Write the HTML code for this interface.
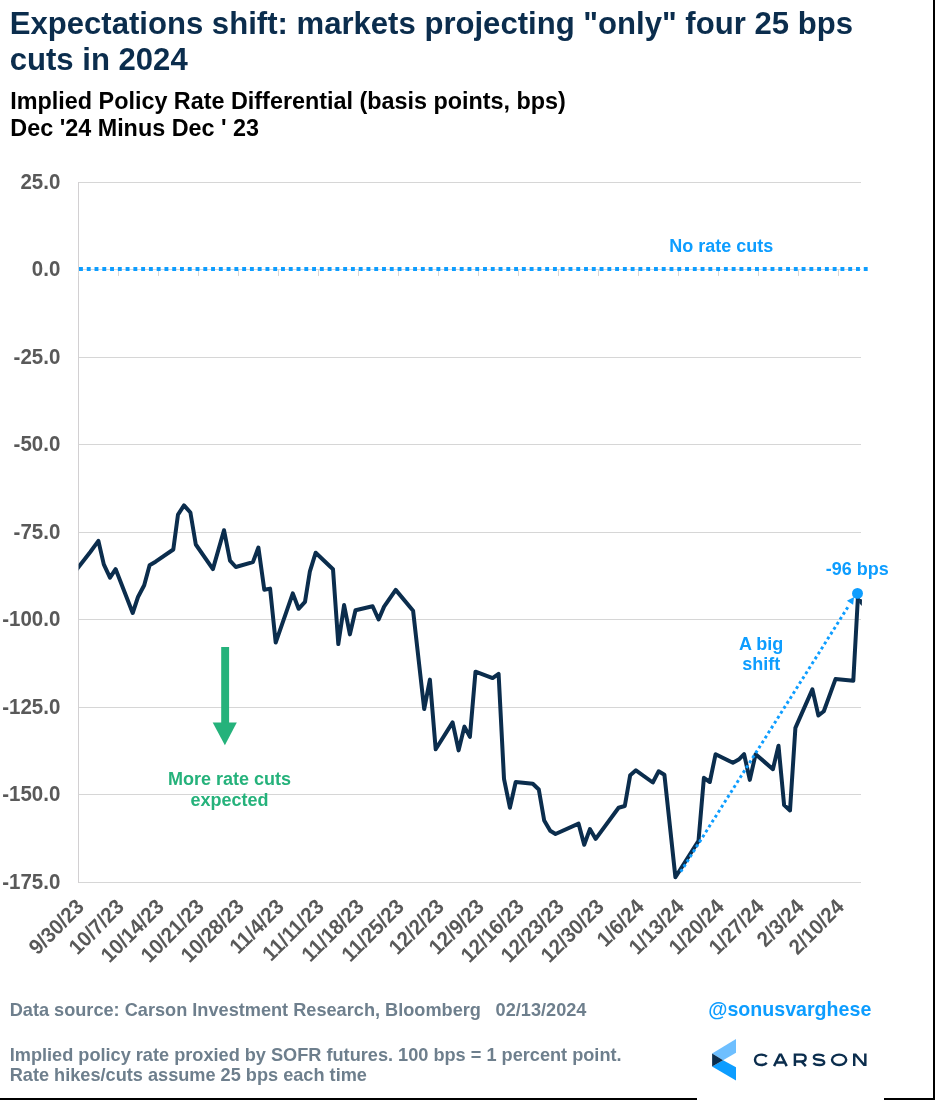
<!DOCTYPE html>
<html><head><meta charset="utf-8">
<style>
html,body{margin:0;padding:0;background:#fff;}
body{width:935px;height:1100px;overflow:hidden;position:relative;font-family:"Liberation Sans",sans-serif;}
svg{position:absolute;left:0;top:0;display:block;will-change:transform;transform:translateZ(0)}
text{font-family:"Liberation Sans",sans-serif;font-weight:bold}
.yl{font-size:20.5px;fill:#595959}
.xl{font-size:20.3px;fill:#595959}
.t1{font-size:31.1px;fill:#0b2d4d}
.t2{font-size:23.36px;fill:#000}
.bl{font-size:18px;fill:#0d9dff}
.gr{font-size:18px;fill:#25b27b}
.ft{font-size:18.17px;fill:#6e7f8d}
</style></head><body>
<svg width="935" height="1100" viewBox="0 0 935 1100">
<rect x="0" y="0" width="935" height="1100" fill="#ffffff"/>
<!-- borders -->
<rect x="933" y="0" width="2" height="1100" fill="#000"/>
<rect x="0" y="1098" width="697" height="2" fill="#000"/>
<rect x="884" y="1098" width="51" height="2" fill="#000"/>
<!-- titles -->
<text x="9.7" y="33.7" class="t1">Expectations shift: markets projecting "only" four 25 bps</text>
<text x="9.7" y="69.6" class="t1">cuts in 2024</text>
<text x="10.3" y="108.9" class="t2">Implied Policy Rate Differential (basis points, bps)</text>
<text x="10.3" y="135.5" class="t2">Dec '24 Minus Dec ' 23</text>
<!-- grid -->
<rect x="78" y="182" width="783" height="1" fill="#d6d6d6"/>
<rect x="78" y="269" width="783" height="1" fill="#d6d6d6"/>
<rect x="78" y="357" width="783" height="1" fill="#d6d6d6"/>
<rect x="78" y="444" width="783" height="1" fill="#d6d6d6"/>
<rect x="78" y="532" width="783" height="1" fill="#d6d6d6"/>
<rect x="78" y="619" width="783" height="1" fill="#d6d6d6"/>
<rect x="78" y="707" width="783" height="1" fill="#d6d6d6"/>
<rect x="78" y="794" width="783" height="1" fill="#d6d6d6"/>
<rect x="78" y="882" width="783" height="1" fill="#d6d6d6"/>

<rect x="78" y="182" width="1" height="701" fill="#d2d0d2"/>
<rect x="78" y="269" width="1" height="7" fill="#d6d6d6"/>
<rect x="118" y="269" width="1" height="7" fill="#d6d6d6"/>
<rect x="158" y="269" width="1" height="7" fill="#d6d6d6"/>
<rect x="198" y="269" width="1" height="7" fill="#d6d6d6"/>
<rect x="238" y="269" width="1" height="7" fill="#d6d6d6"/>
<rect x="278" y="269" width="1" height="7" fill="#d6d6d6"/>
<rect x="318" y="269" width="1" height="7" fill="#d6d6d6"/>
<rect x="358" y="269" width="1" height="7" fill="#d6d6d6"/>
<rect x="398" y="269" width="1" height="7" fill="#d6d6d6"/>
<rect x="438" y="269" width="1" height="7" fill="#d6d6d6"/>
<rect x="478" y="269" width="1" height="7" fill="#d6d6d6"/>
<rect x="518" y="269" width="1" height="7" fill="#d6d6d6"/>
<rect x="558" y="269" width="1" height="7" fill="#d6d6d6"/>
<rect x="598" y="269" width="1" height="7" fill="#d6d6d6"/>
<rect x="638" y="269" width="1" height="7" fill="#d6d6d6"/>
<rect x="678" y="269" width="1" height="7" fill="#d6d6d6"/>
<rect x="718" y="269" width="1" height="7" fill="#d6d6d6"/>
<rect x="758" y="269" width="1" height="7" fill="#d6d6d6"/>
<rect x="798" y="269" width="1" height="7" fill="#d6d6d6"/>
<rect x="838" y="269" width="1" height="7" fill="#d6d6d6"/>

<text transform="translate(60.3,188.6) scale(1,1.07)" text-anchor="end" class="yl">25.0</text>
<text transform="translate(60.3,276.1) scale(1,1.07)" text-anchor="end" class="yl">0.0</text>
<text transform="translate(60.3,363.6) scale(1,1.07)" text-anchor="end" class="yl">-25.0</text>
<text transform="translate(60.3,451.1) scale(1,1.07)" text-anchor="end" class="yl">-50.0</text>
<text transform="translate(60.3,538.6) scale(1,1.07)" text-anchor="end" class="yl">-75.0</text>
<text transform="translate(60.3,626.1) scale(1,1.07)" text-anchor="end" class="yl">-100.0</text>
<text transform="translate(60.3,713.6) scale(1,1.07)" text-anchor="end" class="yl">-125.0</text>
<text transform="translate(60.3,801.1) scale(1,1.07)" text-anchor="end" class="yl">-150.0</text>
<text transform="translate(60.3,888.6) scale(1,1.07)" text-anchor="end" class="yl">-175.0</text>

<text transform="translate(85.30,908) rotate(-45) scale(1,1.05)" text-anchor="end" class="xl">9/30/23</text>
<text transform="translate(125.30,908) rotate(-45) scale(1,1.05)" text-anchor="end" class="xl">10/7/23</text>
<text transform="translate(165.30,908) rotate(-45) scale(1,1.05)" text-anchor="end" class="xl">10/14/23</text>
<text transform="translate(205.30,908) rotate(-45) scale(1,1.05)" text-anchor="end" class="xl">10/21/23</text>
<text transform="translate(245.30,908) rotate(-45) scale(1,1.05)" text-anchor="end" class="xl">10/28/23</text>
<text transform="translate(285.30,908) rotate(-45) scale(1,1.05)" text-anchor="end" class="xl">11/4/23</text>
<text transform="translate(325.30,908) rotate(-45) scale(1,1.05)" text-anchor="end" class="xl">11/11/23</text>
<text transform="translate(365.30,908) rotate(-45) scale(1,1.05)" text-anchor="end" class="xl">11/18/23</text>
<text transform="translate(405.30,908) rotate(-45) scale(1,1.05)" text-anchor="end" class="xl">11/25/23</text>
<text transform="translate(445.30,908) rotate(-45) scale(1,1.05)" text-anchor="end" class="xl">12/2/23</text>
<text transform="translate(485.30,908) rotate(-45) scale(1,1.05)" text-anchor="end" class="xl">12/9/23</text>
<text transform="translate(525.30,908) rotate(-45) scale(1,1.05)" text-anchor="end" class="xl">12/16/23</text>
<text transform="translate(565.30,908) rotate(-45) scale(1,1.05)" text-anchor="end" class="xl">12/23/23</text>
<text transform="translate(605.30,908) rotate(-45) scale(1,1.05)" text-anchor="end" class="xl">12/30/23</text>
<text transform="translate(645.30,908) rotate(-45) scale(1,1.05)" text-anchor="end" class="xl">1/6/24</text>
<text transform="translate(685.30,908) rotate(-45) scale(1,1.05)" text-anchor="end" class="xl">1/13/24</text>
<text transform="translate(725.30,908) rotate(-45) scale(1,1.05)" text-anchor="end" class="xl">1/20/24</text>
<text transform="translate(765.30,908) rotate(-45) scale(1,1.05)" text-anchor="end" class="xl">1/27/24</text>
<text transform="translate(805.30,908) rotate(-45) scale(1,1.05)" text-anchor="end" class="xl">2/3/24</text>
<text transform="translate(845.30,908) rotate(-45) scale(1,1.05)" text-anchor="end" class="xl">2/10/24</text>

<!-- zero dotted -->
<line x1="79" y1="269" x2="868" y2="269" stroke="#0d9dff" stroke-width="3.9" stroke-dasharray="3.9 3.87"/>
<text x="721.2" y="251.9" text-anchor="middle" class="bl">No rate cuts</text>
<!-- main line -->
<clipPath id="cp"><rect x="78.6" y="170" width="800" height="720"/></clipPath>
<polyline clip-path="url(#cp)" points="72.75,574.5 78.6,567 90.3,552 98.4,540.9 103.8,564.4 110,577.7 115.6,569.1 132.7,613 138,597 144.2,585.2 149.6,565.3 155.6,561.7 173.3,549.5 178,514.6 184,505.4 190.4,512.5 195.8,544.5 212.9,569.1 224,530.2 230,560.6 235.8,567 252.9,562.1 258.4,547.5 264.3,589.8 270.1,588.6 275.7,642.6 292.8,593.4 298.6,608.8 305,601.9 309.9,571.3 315.7,552.7 333,569.2 338.3,644.1 344.1,605.1 349.9,634.4 355.5,610.3 372.6,606.2 378.6,619.5 384.1,606.6 395.7,589.9 413.1,610.8 424.2,709.1 429.9,679.6 435.7,749.3 452.6,722.4 458.6,750.4 464.4,726.6 469.9,736.9 475.5,671.7 492.6,678.1 498.6,673.8 504,778.8 509.9,807.7 515.7,782 532.8,783.7 538.8,789.5 544.2,820.5 550.2,830.8 555.5,834 578.6,823.7 584.2,844.7 589.9,829.1 595.7,838.9 618.6,807.7 624.8,806 630.2,775.2 635.9,770.3 652.8,782.5 658.6,771.3 664.4,774.8 675.4,877.2 698.5,840.9 703.9,777.8 709.8,782 715.6,754.2 732.9,762.8 738.7,759.6 744.1,754.2 749.8,779.9 755.6,754.2 772.9,769.2 778.5,745.7 784.1,805.1 790,810.5 795.4,727.9 812.4,689.4 818.4,715.5 823.8,711.2 835.5,679.1 853.3,680.8 857.9,597.5" fill="none" stroke="#0b2d4d" stroke-width="4.0" stroke-linejoin="round" stroke-linecap="butt"/>
<polygon points="859.2,598.6 862,599.4 861.8,605.9 859.2,603" fill="#0b2d4d"/>
<!-- blue dotted arrow -->
<line x1="680.7" y1="871.8" x2="847.9" y2="607.0" stroke="#0d9dff" stroke-width="2.94" stroke-dasharray="2.925 2.925"/>
<polygon points="854.1,597.1 846.9,600.7 853.1,604.7" fill="#0d9dff"/>
<circle cx="857.5" cy="593.4" r="5.45" fill="#0d9dff"/>
<text x="857.2" y="574.7" text-anchor="middle" class="bl">-96 bps</text>
<text x="761.2" y="649.6" text-anchor="middle" class="bl">A big</text>
<text x="761.3" y="669.7" text-anchor="middle" class="bl">shift</text>
<!-- green arrow -->
<rect x="221.2" y="647" width="7.9" height="77" fill="#25b27b"/>
<polygon points="212.7,722.6 236.8,722.6 224.9,745.3" fill="#25b27b"/>
<text x="229.5" y="785.3" text-anchor="middle" class="gr">More rate cuts</text>
<text x="229.5" y="805.5" text-anchor="middle" class="gr">expected</text>
<!-- footer -->
<text x="9.7" y="1016.4" class="ft">Data source: Carson Investment Research, Bloomberg</text>
<text x="495.6" y="1016.4" class="ft">02/13/2024</text>
<text x="9.7" y="1061.3" class="ft">Implied policy rate proxied by SOFR futures. 100 bps = 1 percent point.</text>
<text x="9.7" y="1080.5" class="ft">Rate hikes/cuts assume 25 bps each time</text>
<text x="708.3" y="1016.2" textLength="163" lengthAdjust="spacingAndGlyphs" style="font-size:20.8px;fill:#0d9dff;font-weight:bold">@sonusvarghese</text>
<!-- logo -->
<g id="logo">
<polygon points="712.1,1053.5 736,1039 736,1052.7 723.1,1060.2" fill="#6ebfff"/>
<polygon points="712.1,1066.6 723.1,1060.2 736,1067.2 736,1080.4" fill="#0d9dff"/>
<polygon points="712.1,1053.5 723.1,1060.2 712.1,1066.6" fill="#0b2d4d"/>
<g fill="none" stroke="#0b2d4d" stroke-width="2.45" stroke-linejoin="miter">
<path d="M766.8 1056.7 C765.2 1055.1 763.3 1054.6 761.2 1054.6 C757.2 1054.6 755 1056.9 755 1059.8 C755 1062.7 757.2 1065 761.2 1065 C763.3 1065 765.2 1064.5 766.8 1062.9"/>
<path d="M774.1 1066.1 L779.7 1054.6 L781.1 1054.6 L786.7 1066.1 M776.6 1062.5 L784.2 1062.5"/>
<path d="M794.9 1066.1 L794.9 1054.6 L801.6 1054.6 C804.6 1054.6 805.6 1056.1 805.6 1058 C805.6 1059.9 804.6 1061.4 801.6 1061.4 L794.9 1061.4 M801.4 1061.4 L805.8 1066.1"/>
<path d="M824 1056.3 C822.5 1055.1 820.6 1054.6 818.6 1054.6 C815.6 1054.6 813.9 1055.6 813.9 1057.2 C813.9 1058.9 815.6 1059.4 819 1059.8 C822.5 1060.2 824.2 1060.8 824.2 1062.5 C824.2 1064.2 822.3 1065 819.3 1065 C816.9 1065 814.9 1064.4 813.3 1063.1"/>
<ellipse cx="839.1" cy="1059.8" rx="7.1" ry="5.2"/>
</g>
<path d="M853 1053.6h2.45v12.5h-2.45z M864.1 1053.6h2.45v12.5h-2.45z M853 1053.6h3.1l10.45 12.5h-3.1z" fill="#0b2d4d"/>
</g>
</svg>
</body></html>
